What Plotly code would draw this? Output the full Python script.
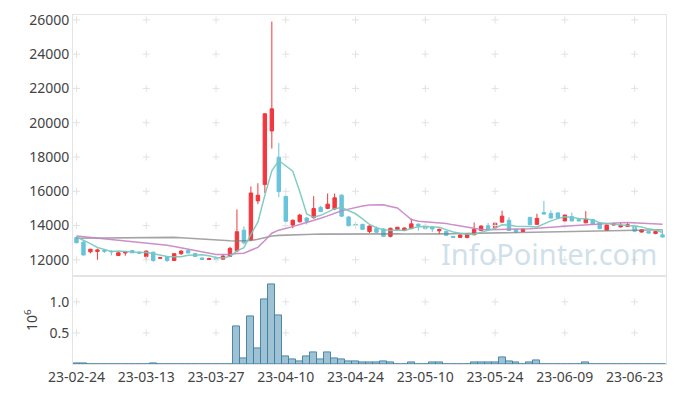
import plotly.graph_objects as go
import pandas as pd

dates = ["23-02-24","23-02-27","23-02-28","23-03-02","23-03-03","23-03-06","23-03-07","23-03-08","23-03-09","23-03-10",
         "23-03-13","23-03-14","23-03-15","23-03-16","23-03-17","23-03-20","23-03-21","23-03-22","23-03-23","23-03-24",
         "23-03-27","23-03-28","23-03-29","23-03-30","23-03-31","23-04-03","23-04-04","23-04-05","23-04-06","23-04-07",
         "23-04-10","23-04-11","23-04-12","23-04-13","23-04-14","23-04-17","23-04-18","23-04-19","23-04-20","23-04-21",
         "23-04-24","23-04-25","23-04-26","23-04-27","23-04-28","23-05-02","23-05-03","23-05-04","23-05-08","23-05-09",
         "23-05-10","23-05-11","23-05-12","23-05-15","23-05-16","23-05-17","23-05-18","23-05-19","23-05-22","23-05-23",
         "23-05-24","23-05-25","23-05-26","23-05-30","23-05-31","23-06-01","23-06-02","23-06-05","23-06-07","23-06-08",
         "23-06-09","23-06-12","23-06-13","23-06-14","23-06-15","23-06-16","23-06-19","23-06-20","23-06-21","23-06-22",
         "23-06-23","23-06-26","23-06-27","23-06-28","23-06-29"]

open_ = [13300,13030,12470,12490,12560,12490,12250,12400,12540,12450,
         12190,12450,12090,12200,11960,12360,12540,12375,12110,12020,
         12090,12040,12200,12520,13730,13170,15440,16400,19520,17990,
         15700,14030,14220,14440,14460,15060,15000,14970,15775,14500,
         14070,14070,13650,13820,13800,13370,13770,13710,13820,14080,
         14010,13920,13690,13670,13370,13310,13300,13460,13710,13990,
         13880,14200,14310,13780,13650,14480,14070,14760,14700,14740,
         14270,14520,14350,14160,14350,14160,13730,14030,13920,13950,
         13990,13620,13650,13540,13460]
high = [13380,13100,12640,12650,12620,12560,12470,12520,12560,12500,
        12540,12470,12150,12220,12380,12560,12600,12400,12130,12130,
        12200,12330,12760,14940,13950,16280,16470,20550,25900,18810,
        15750,14350,14680,14500,15720,15150,15870,15870,15820,14550,
        14220,14100,14000,13940,13850,13880,13920,13880,14400,14120,
        14050,13950,13830,13690,13390,13470,13520,14180,14020,14150,
        14160,14870,14490,13800,13820,14500,14690,15440,14880,14760,
        14640,14760,14370,14840,14370,14180,14050,14180,14170,14180,
        14010,13770,13670,13670,13740]
low = [12950,12270,12380,12000,12400,12260,12220,12240,12390,12370,
       11980,11890,12060,11880,11940,12280,12380,12180,12000,12000,
       12010,12020,12180,12450,12900,13100,15250,15900,18490,15650,
       14250,13840,14180,14060,14400,14780,14950,14900,14500,13960,
       13850,13740,13560,13560,13330,13310,13740,13680,13800,13700,
       13780,13620,13500,13410,13290,13290,13260,13440,13690,13760,
       13860,14180,13690,13560,13630,14030,14050,14650,14420,14420,
       14250,14250,14250,14140,14060,13800,13710,14010,13900,13930,
       13650,13600,13540,13490,13310]
close = [13000,12280,12620,12580,12500,12470,12410,12470,12410,12390,
         12510,11960,12130,11960,12360,12510,12400,12200,12020,12070,
         12020,12220,12670,13640,12990,15900,15770,20520,20810,15980,
         14250,14310,14610,14250,14990,14820,15250,15620,14550,13990,
         14030,13780,13970,13610,13370,13840,13900,13860,14100,13990,
         13820,13800,13780,13430,13310,13450,13500,13780,13970,13780,
         14140,14550,13710,13620,13800,14050,14420,14670,14440,14440,
         14610,14270,14270,14370,14080,13820,14030,14120,14010,14050,
         13670,13750,13560,13650,13330]
# volume in units of 10^6
volume = [0.015,0.015,0,0,0,0,0,0,0,0,
          0,0.015,0,0,0,0,0,0,0,0,
          0,0,0,0.605,0.084,0.763,0.258,1.047,1.284,0.784,
          0.116,0.074,0.037,0.116,0.179,0.074,0.179,0.084,0.068,0.042,
          0.037,0.021,0.021,0.021,0.037,0.021,0,0,0.020,0,
          0,0.020,0.020,0,0,0,0,0.020,0.020,0.020,
          0.020,0.105,0.037,0.020,0,0.020,0.058,0,0,0,
          0,0,0,0.020,0,0,0,0,0,0,
          0,0,0,0,0]

ma5_head = [13330, 13160, 12950, 12720]
ma20_head = [13390,13350,13300,13250,13200,13150,13110,13070,13030,13000,
             12950,12910,12880,12850,12780,12700,12640,12560,12460]
ma_long = [13260,13265,13270,13275,13280,13285,13290,13295,13300,13305,
           13310,13315,13320,13325,13310,13290,13260,13230,13200,13170,
           13150,13130,13110,13100,13100,13130,13200,13300,13390,13430,
           13450,13460,13470,13480,13490,13500,13505,13510,13515,13520,
           13525,13530,13535,13530,13525,13520,13515,13510,13505,13500,
           13500,13505,13510,13515,13522,13530,13538,13546,13554,13562,
           13570,13578,13586,13594,13602,13610,13618,13626,13634,13642,
           13650,13658,13666,13674,13682,13690,13698,13706,13714,13722,
           13730,13738,13746,13752,13758]

price_ticks = [12000,14000,16000,18000,20000,22000,24000,26000]
vol_ticks = [0.5, 1.0]
tick_dates = dates[::10]

s_close = pd.Series(close, dtype=float)
ma5 = s_close.rolling(5).mean().tolist()
ma5[:4] = ma5_head
ma20 = s_close.rolling(20).mean().tolist()
ma20[:19] = ma20_head

RED = "#f0383e"
CYAN = "#68c4da"
FONT = "Noto Sans"
CROSS = dict(symbol="cross-thin", size=5, line=dict(color="#e2e2e2", width=1))

fig = go.Figure()

# grid crosses at tick intersections
gx, gy = [], []
for d in tick_dates:
    for v in price_ticks:
        gx.append(d); gy.append(v)
fig.add_trace(go.Scatter(x=gx, y=gy, mode="markers", xaxis="x", yaxis="y",
                         marker=CROSS, hoverinfo="skip", showlegend=False))
gx2, gy2 = [], []
for d in tick_dates:
    for v in vol_ticks:
        gx2.append(d); gy2.append(v)
fig.add_trace(go.Scatter(x=gx2, y=gy2, mode="markers", xaxis="x2", yaxis="y2",
                         marker=CROSS, hoverinfo="skip", showlegend=False))

fig.add_trace(go.Scatter(x=dates, y=ma_long, mode="lines", xaxis="x", yaxis="y",
                         line=dict(color="rgba(125,125,125,0.7)", width=1.6), showlegend=False))
fig.add_trace(go.Scatter(x=dates, y=ma20, mode="lines", xaxis="x", yaxis="y",
                         line=dict(color="rgba(200,130,195,0.9)", width=1.5), showlegend=False))
fig.add_trace(go.Scatter(x=dates, y=ma5, mode="lines", xaxis="x", yaxis="y",
                         line=dict(color="rgba(120,200,188,0.9)", width=1.5), showlegend=False))

fig.add_trace(go.Candlestick(x=dates, open=open_, high=high, low=low, close=close,
                             xaxis="x", yaxis="y",
                             increasing=dict(line=dict(color=RED, width=1), fillcolor=RED),
                             decreasing=dict(line=dict(color=CYAN, width=1), fillcolor=CYAN),
                             showlegend=False))

fig.add_trace(go.Bar(x=dates, y=volume, xaxis="x2", yaxis="y2",
                     marker=dict(color="rgba(125,172,196,0.75)", line=dict(color="rgba(62,128,162,0.9)", width=1)),
                     showlegend=False))

axis_common = dict(showline=True, linecolor="#e4e4e4", linewidth=1, mirror=True,
                   showgrid=False, zeroline=False, ticks="",
                   tickfont=dict(family=FONT, size=14, color="#444"))

fig.update_layout(
    width=677, height=396,
    margin=dict(l=73, r=10, t=10, b=29),
    paper_bgcolor="white", plot_bgcolor="white",
    bargap=0,
    showlegend=False,
    xaxis=dict(axis_common, domain=[0, 1], anchor="y", type="category", categoryorder="array",
               categoryarray=dates, range=[-0.5, 84.5], showticklabels=False,
               rangeslider=dict(visible=False)),
    yaxis=dict(axis_common, domain=[0.251, 1], anchor="x", range=[11034, 26284],
               tickvals=price_ticks, ticktext=[str(v) for v in price_ticks]),
    xaxis2=dict(axis_common, domain=[0, 1], anchor="y2", type="category", categoryorder="array",
                categoryarray=dates, range=[-0.5, 84.5], matches="x",
                tickvals=tick_dates, ticktext=tick_dates),
    yaxis2=dict(axis_common, domain=[0, 0.251], anchor="x2", range=[0, 1.41],
                tickvals=vol_ticks, ticktext=["0.5", "1.0"],
                title=dict(text="10<sup>6</sup>", font=dict(family=FONT, size=14, color="#444"), standoff=8)),
    annotations=[dict(text="InfoPointer.com", xref="paper", yref="paper", x=0.802, y=0.316,
                      xanchor="center", yanchor="middle", showarrow=False,
                      font=dict(family=FONT, size=29, color="rgba(165,197,216,0.55)"))],
)

fig.write_html("out.html", config={"displayModeBar": False},
               post_script="document.body.style.margin='0';")
